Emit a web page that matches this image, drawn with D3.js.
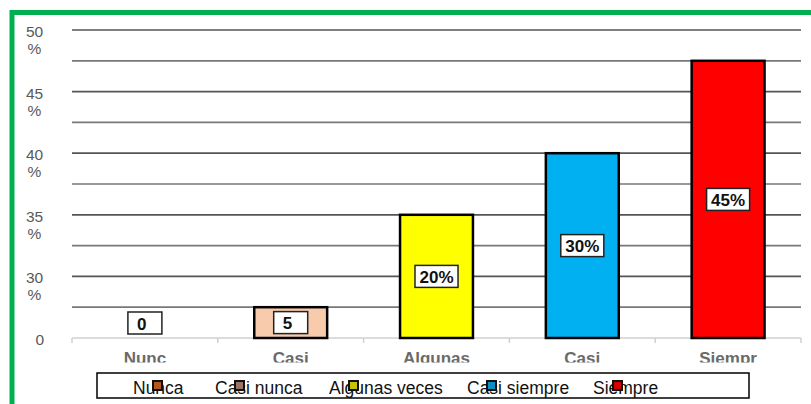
<!DOCTYPE html>
<html>
<head>
<meta charset="utf-8">
<script src="https://cdn.jsdelivr.net/npm/d3@7"></script>
<style>
  body { margin: 0; background: #fff; }
  svg { display: block; font-family: "Liberation Sans", Arial, sans-serif; }
</style>
</head>
<body>
<div id="wrapper"></div>
<script>
// chart data
const categories = ["Nunca", "Casi nunca", "Algunas veces", "Casi siempre", "Siempre"]
const values = [0, 5, 20, 30, 45]
const valueLabels = ["0", "5", "20%", "30%", "45%"]
const axisLabels = ["Nunc", "Casi", "Algunas", "Casi", "Siempr"] // truncated as in the picture
const colors = ["#c55a11", "#f8cbad", "#ffff00", "#00b0f0", "#ff0000"]
const markerColors = ["#b5561e", "#9c7463", "#c7c300", "#0a8fc4", "#d40000"]
const tickValues = [0, 10, 20, 30, 40, 50]
const tickLabels = ["0", "30 %", "35 %", "40 %", "45 %", "50 %"]
const legendX = [133, 215, 329, 467, 593]

const width = 811
const height = 404
const dims = { left: 72, right: 801, top: 30, bottom: 338 }

const svg = d3.select("#wrapper")
  .append("svg")
    .attr("width", width)
    .attr("height", height)

// green frame
svg.append("rect")
  .attr("x", 12).attr("y", 12.5)
  .attr("width", 900).attr("height", 500)
  .attr("fill", "none")
  .attr("stroke", "#00b050")
  .attr("stroke-width", 5)

const x = d3.scaleBand()
  .domain(categories)
  .range([dims.left, dims.right])
  .paddingInner(0.5)
  .paddingOuter(0.25)

const y = d3.scaleLinear()
  .domain([0, 50])
  .range([dims.bottom, dims.top])

// gridlines every 5
svg.append("g")
  .selectAll("line")
  .data(d3.range(5, 51, 5))
  .join("line")
    .attr("x1", dims.left).attr("x2", dims.right)
    .attr("y1", d => y(d)).attr("y2", d => y(d))
    .attr("stroke", (d, i) => i % 2 ? "#555" : "#777")
    .attr("stroke-width", 1.7)

// baseline with category separators
const step = x.step()
svg.append("line")
  .attr("x1", dims.left).attr("x2", dims.right)
  .attr("y1", y(0)).attr("y2", y(0))
  .attr("stroke", "#d0d0d0").attr("stroke-width", 1.5)
svg.append("g")
  .selectAll("line")
  .data(d3.range(categories.length + 1))
  .join("line")
    .attr("x1", d => dims.left + d * step).attr("x2", d => dims.left + d * step)
    .attr("y1", y(0)).attr("y2", y(0) + 5)
    .attr("stroke", "#d0d0d0").attr("stroke-width", 1.5)

// y tick labels (wrapped)
const yTicks = svg.append("g")
  .attr("fill", "#595959")
  .attr("font-size", 15.5)
tickValues.forEach((v, i) => {
  const parts = tickLabels[i].split(" ")
  const t = yTicks.append("text")
    .attr("y", y(v) + 7)
  if (parts.length === 1) {
    t.attr("x", 44).attr("text-anchor", "end").text(parts[0])
  } else {
    t.attr("x", 34.5).attr("text-anchor", "middle")
    parts.forEach((p, j) => {
      t.append("tspan").attr("x", 34.5).attr("dy", j ? 17 : 0).text(p)
    })
  }
})

// bars
svg.append("g")
  .selectAll("rect")
  .data(categories.filter((c, i) => values[i] > 0))
  .join("rect")
    .attr("x", d => x(d))
    .attr("y", d => y(values[categories.indexOf(d)]))
    .attr("width", x.bandwidth())
    .attr("height", d => y(0) - y(values[categories.indexOf(d)]))
    .attr("fill", d => colors[categories.indexOf(d)])
    .attr("stroke", "#000")
    .attr("stroke-width", 2.5)

// value labels in white boxes
const labels = svg.append("g")
categories.forEach((c, i) => {
  const cx = x(c) + x.bandwidth() / 2
  const cy = Math.min((y(values[i]) + y(0)) / 2, y(0) - 15)
  const g = labels.append("g")
  const t = g.append("text")
    .attr("font-size", 17)
    .attr("font-weight", "bold")
    .attr("fill", "#111")
    .text(valueLabels[i])
  const tw = t.node().getComputedTextLength()
  const bw = Math.max(tw + 9, 34)
  const bx = cx - bw / 2
  g.insert("rect", "text")
    .attr("x", bx).attr("y", cy - 11)
    .attr("width", bw).attr("height", 22)
    .attr("fill", "#fff")
    .attr("stroke", "#222")
    .attr("stroke-width", 1.5)
  t.attr("x", bx + Math.min(9, (bw - tw) / 2))
    .attr("y", cy + 6.5)
})

// category labels, clipped at the bottom
svg.append("clipPath").attr("id", "catclip")
  .append("rect")
    .attr("x", 0).attr("y", 340)
    .attr("width", width).attr("height", 22.5)
svg.append("g")
  .attr("clip-path", "url(#catclip)")
  .selectAll("text")
  .data(categories)
  .join("text")
    .attr("x", d => x(d) + x.bandwidth() / 2)
    .attr("y", 363.5)
    .attr("text-anchor", "middle")
    .attr("font-size", 17)
    .attr("font-weight", "bold")
    .attr("fill", "#6a6a6a")
    .text((d, i) => axisLabels[i])

// legend
const legend = svg.append("g")
legend.append("rect")
  .attr("x", 97).attr("y", 373)
  .attr("width", 652).attr("height", 25)
  .attr("fill", "#fff")
  .attr("stroke", "#000")
  .attr("stroke-width", 1.5)
categories.forEach((c, i) => {
  legend.append("text")
    .attr("x", legendX[i])
    .attr("y", 394)
    .attr("font-size", 17.5)
    .attr("fill", "#111")
    .text(c)
  legend.append("rect")
    .attr("x", legendX[i] + 20).attr("y", 381)
    .attr("width", 9).attr("height", 9)
    .attr("fill", markerColors[i])
    .attr("stroke", "#111")
    .attr("stroke-width", 2)
})
</script>
</body>
</html>
